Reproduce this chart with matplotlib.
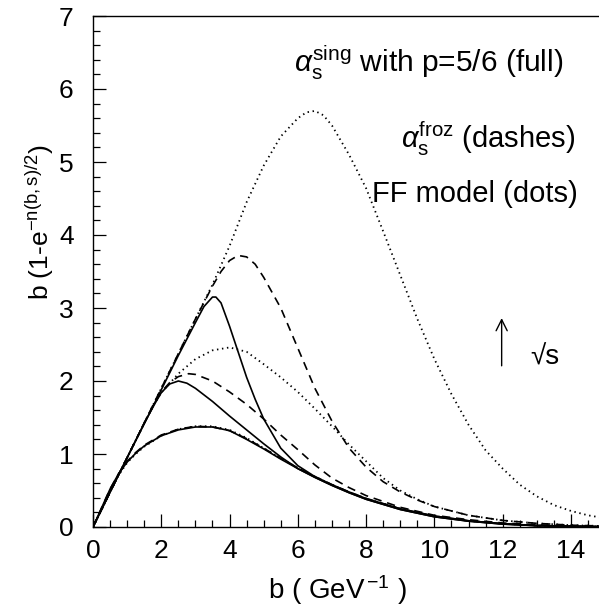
import matplotlib
matplotlib.use('Agg')
from matplotlib import pyplot as plt

plt.rcParams['font.family'] = ['Liberation Sans', 'DejaVu Sans']
plt.rcParams['mathtext.fontset'] = 'custom'
plt.rcParams['mathtext.rm'] = 'Liberation Sans'
plt.rcParams['mathtext.it'] = 'Liberation Sans:italic'

# lowest energy: full, dashes and dots nearly on top of each other
b_low = [0, 0.25, 0.5, 0.75, 1.0, 1.25, 1.5, 2.0, 2.5, 3.0, 3.5, 4.0, 4.5, 5.0,
         5.5, 6.0, 6.5, 7.0, 7.5, 8.0, 9.0, 10.0, 11.0, 12.0, 13.0, 14.0, 15.0]
full_low = [0, 0.26, 0.52, 0.73, 0.89, 1.01, 1.11, 1.25, 1.33, 1.37, 1.37, 1.32, 1.2, 1.07,
            0.93, 0.8, 0.68, 0.57, 0.47, 0.38, 0.24, 0.14, 0.08, 0.04, 0.018, 0.008, 0.003]
dash_low = [0, 0.26, 0.52, 0.73, 0.9, 1.02, 1.12, 1.26, 1.34, 1.38, 1.37, 1.32, 1.21, 1.08,
            0.94, 0.81, 0.69, 0.58, 0.48, 0.39, 0.25, 0.15, 0.085, 0.045, 0.02, 0.01, 0.004]
dot_low = [0, 0.25, 0.5, 0.71, 0.88, 1.0, 1.1, 1.25, 1.34, 1.38, 1.38, 1.33, 1.22, 1.08,
           0.94, 0.81, 0.69, 0.58, 0.48, 0.39, 0.25, 0.15, 0.085, 0.045, 0.02, 0.01, 0.004]

# middle energy
b_full_mid = [0, 0.5, 1.0, 1.5, 1.8, 2.0, 2.25, 2.5, 2.75, 3.0, 3.5, 4.0, 4.5, 5.0,
              5.5, 6.0, 6.5, 7.0, 7.5, 8.0, 9.0, 10.0, 11.0, 12.0, 13.0, 14.0, 15.0]
full_mid = [0, 0.48, 0.95, 1.42, 1.68, 1.84, 1.96, 2.0, 1.97, 1.9, 1.72, 1.52, 1.33, 1.14,
            0.96, 0.8, 0.68, 0.57, 0.47, 0.38, 0.24, 0.14, 0.08, 0.04, 0.018, 0.008, 0.003]
b_dash_mid = [0, 0.5, 1.0, 1.5, 1.8, 2.0, 2.25, 2.5, 2.8, 3.0, 3.5, 4.0, 4.5, 5.0,
              5.5, 6.0, 6.5, 7.0, 7.5, 8.0, 9.0, 10.0, 11.0, 12.0, 13.0, 14.0, 15.0]
dash_mid = [0, 0.48, 0.95, 1.42, 1.69, 1.85, 1.98, 2.06, 2.1, 2.09, 2.0, 1.85, 1.68, 1.48,
            1.26, 1.06, 0.85, 0.67, 0.54, 0.43, 0.27, 0.16, 0.1, 0.055, 0.03, 0.015, 0.007]
b_dot_mid = [0, 0.5, 1.0, 1.5, 1.8, 2.0, 2.5, 3.0, 3.5, 4.0, 4.5, 5.0, 5.5, 6.0,
             6.5, 7.0, 7.5, 8.0, 8.5, 9.0, 9.5, 10.0, 11.0, 12.0, 13.0, 14.0, 15.0]
dot_mid = [0, 0.48, 0.95, 1.42, 1.69, 1.84, 2.1, 2.3, 2.42, 2.46, 2.4, 2.23, 2.05, 1.85,
           1.62, 1.38, 1.13, 0.9, 0.67, 0.5, 0.38, 0.28, 0.16, 0.09, 0.05, 0.025, 0.012]

# highest energy
b_full_high = [0, 1.0, 2.0, 2.5, 3.0, 3.25, 3.5, 3.6, 3.75, 4.0, 4.25, 4.5, 4.75, 5.0,
               5.5, 6.0, 6.5, 7.0, 7.5, 8.0, 9.0, 10.0, 11.0, 12.0, 13.0, 14.0, 15.0]
full_high = [0, 0.95, 1.88, 2.35, 2.8, 3.02, 3.15, 3.15, 3.07, 2.75, 2.4, 2.05, 1.75, 1.48,
             1.08, 0.84, 0.69, 0.58, 0.48, 0.39, 0.25, 0.15, 0.085, 0.045, 0.02, 0.01, 0.004]
b_dash_high = [0, 1.0, 2.0, 3.0, 3.5, 3.75, 4.0, 4.25, 4.5, 4.75, 5.0, 5.5, 6.0, 6.5,
               7.0, 7.5, 8.0, 8.5, 9.0, 9.5, 10.0, 11.0, 12.0, 13.0, 14.0, 15.0]
dash_high = [0, 0.95, 1.9, 2.85, 3.3, 3.5, 3.65, 3.72, 3.7, 3.6, 3.42, 3.0, 2.45, 1.9,
             1.45, 1.08, 0.82, 0.62, 0.48, 0.37, 0.28, 0.16, 0.09, 0.05, 0.025, 0.012]
b_dot_high = [0, 1.0, 2.0, 3.0, 3.5, 4.0, 4.5, 5.0, 5.5, 6.0, 6.25, 6.5, 6.75, 7.0, 7.5, 8.0,
              8.5, 9.0, 9.5, 10.0, 10.5, 11.0, 11.5, 12.0, 12.5, 13.0, 13.5, 14.0, 14.5, 15.0]
dot_high = [0, 0.95, 1.9, 2.85, 3.32, 3.85, 4.45, 4.95, 5.35, 5.6, 5.68, 5.7, 5.64, 5.5, 5.1, 4.64,
            4.05, 3.45, 2.85, 2.3, 1.82, 1.4, 1.05, 0.8, 0.58, 0.42, 0.3, 0.22, 0.16, 0.12]

full_style = dict(color='black', lw=1.2, linestyle='-')
dash_style = dict(color='black', lw=1.2, linestyle=(0, (5, 3.5)))
dot_style = dict(color='black', lw=1.3, linestyle=(0, (0.8, 2.0)))

fig = plt.figure(figsize=(5.99, 6.10), dpi=100)
ax = fig.add_axes([93 / 599, 83 / 610, 15 * 34.14 / 599, 511 / 610])

ax.plot(b_low, full_low, **full_style)
ax.plot(b_low, dash_low, **dash_style)
ax.plot(b_low, dot_low, **dot_style)
ax.plot(b_full_mid, full_mid, **full_style)
ax.plot(b_dash_mid, dash_mid, **dash_style)
ax.plot(b_dot_mid, dot_mid, **dot_style)
ax.plot(b_full_high, full_high, **full_style)
ax.plot(b_dash_high, dash_high, **dash_style)
ax.plot(b_dot_high, dot_high, **dot_style)

ax.set_xlim(0, 15)
ax.set_ylim(0, 7)
ax.set_xticks(range(0, 15, 2))
ax.set_xticks([i * 0.5 for i in range(31)], minor=True)
ax.set_yticks(range(0, 8))
ax.set_yticks([i * 0.2 for i in range(36)], minor=True)
ax.tick_params(which='both', direction='in', width=0.9, labelsize=19)
ax.tick_params(which='major', length=9.5)
ax.tick_params(which='minor', length=5)
ax.tick_params(axis='x', pad=9)
ax.tick_params(axis='y', pad=14)
ax.spines['right'].set_visible(False)
for s in ['left', 'bottom', 'top']:
    ax.spines[s].set_linewidth(1.0)

ax.set_xlabel(r'b ( GeV$^{\,\mathrm{-1}}$ )', fontsize=20, va='center')
ax.xaxis.set_label_coords(0.4766, -0.123)
ax.set_ylabel(r'b (1-e$^{\mathrm{-n(b,s)/2}}$)', fontsize=19, va='center')
ax.yaxis.set_label_coords(-0.1035, 0.597)

ax.text(13.77, 6.23, r'$\alpha_\mathrm{s}^\mathrm{sing}$ with p=5/6 (full)',
        fontsize=21.5, ha='right', va='baseline')
ax.text(14.12, 5.19, r'$\alpha_\mathrm{s}^\mathrm{froz}$ (dashes)',
        fontsize=21, ha='right', va='baseline')
ax.text(14.2, 4.45, 'FF model (dots)', fontsize=21, ha='right', va='baseline')

ax.annotate('', xy=(11.97, 2.9), xytext=(11.97, 2.17),
            arrowprops=dict(arrowstyle='->,head_length=0.8,head_width=0.4',
                            color='black', lw=1.0))
ax.text(12.8, 2.22, '√s', fontsize=20, ha='left', va='baseline')

plt.savefig('out.png', dpi=100)
